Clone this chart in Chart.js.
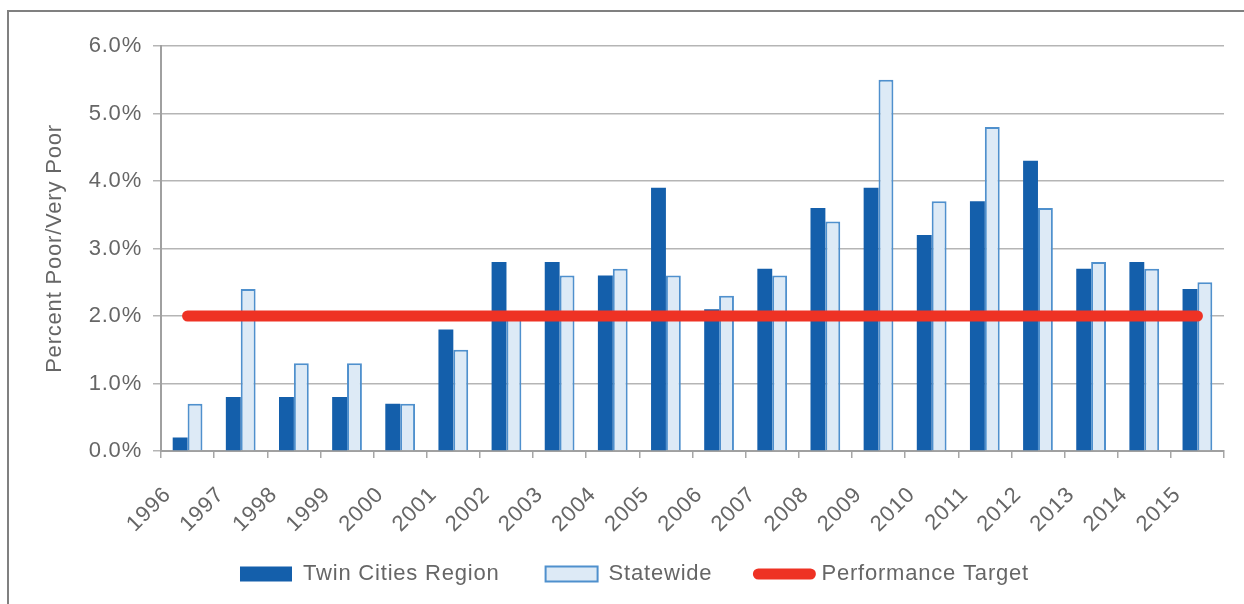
<!DOCTYPE html>
<html>
<head>
<meta charset="utf-8">
<script src="https://cdn.jsdelivr.net/npm/chart.js@4"></script>
<style>
  body { margin: 0; background: #fff; }
  #frame { position: absolute; left: 7px; top: 10px; right: -4px; bottom: -4px; border-left: 2px solid #808080; border-top: 2px solid #808080; }
  #chart { position: absolute; left: 0; top: 0; }
</style>
</head>
<body>
<div id="frame"></div>
<canvas id="chart" width="1244" height="604"></canvas>
<script>
const years = ['1996', '1997', '1998', '1999', '2000', '2001', '2002', '2003', '2004', '2005',
  '2006', '2007', '2008', '2009', '2010', '2011', '2012', '2013', '2014', '2015'];
const twinCities = [0.2, 0.8, 0.8, 0.8, 0.7, 1.8, 2.8, 2.8, 2.6, 3.9,
  2.1, 2.7, 3.6, 3.9, 3.2, 3.7, 4.3, 2.7, 2.8, 2.4];
const statewide = [0.7, 2.4, 1.3, 1.3, 0.7, 1.5, 2.0, 2.6, 2.7, 2.6,
  2.3, 2.6, 3.4, 5.5, 3.7, 4.8, 3.6, 2.8, 2.7, 2.5];
const target = [2, 2, 2, 2, 2, 2, 2, 2, 2, 2, 2, 2, 2, 2, 2, 2, 2, 2, 2, 2];
const yTicks = [0, 1, 2, 3, 4, 5, 6];

const textColor = '#666666';
Chart.defaults.font.family = "'Liberation Sans', Arial, sans-serif";
Chart.defaults.font.size = 22;
Chart.defaults.color = textColor;

// the reference text is tracked out a little
const spacing = {
  id: 'spacing',
  beforeUpdate(chart) { chart.ctx.letterSpacing = '0.8px'; },
  beforeDraw(chart) { chart.ctx.letterSpacing = '0.8px'; },
  afterLayout(chart) {
    // move the legend row up and a bit right, like the reference
    const lg = chart.legend;
    lg.left += 9;
    lg.right += 9;
    lg.top -= 24;
    lg.bottom = chart.height;
    lg.height = lg.bottom - lg.top;
  }
};

const ctx = document.getElementById('chart').getContext('2d');

new Chart(ctx, {
  data: {
    labels: years,
    datasets: [
      {
        type: 'bar',
        label: 'Twin Cities Region',
        data: twinCities,
        backgroundColor: '#145fab',
        borderWidth: 0,
        order: 1
      },
      {
        type: 'bar',
        label: 'Statewide',
        data: statewide,
        backgroundColor: '#ddeaf6',
        borderColor: '#4f90cd',
        borderWidth: 2,
        order: 1
      },
      {
        type: 'line',
        label: 'Performance Target',
        data: target,
        borderColor: '#ee3224',
        backgroundColor: '#ee3224',
        borderWidth: 11,
        borderCapStyle: 'round',
        pointRadius: 0,
        fill: false,
        order: 0
      }
    ]
  },
  options: {
    responsive: false,
    animation: false,
    devicePixelRatio: 1,
    layout: { padding: { left: 27, right: 20, top: 46, bottom: 23 } },
    datasets: {
      bar: { categoryPercentage: 0.56, barPercentage: 1.0 }
    },
    plugins: {
      tooltip: { enabled: false },
      legend: {
        position: 'bottom',
        maxHeight: 40,
        labels: {
          usePointStyle: true,
          pointStyleWidth: 52,
          boxHeight: 15,
          padding: 46,
          color: textColor,
          font: { size: 22 },
          generateLabels: function (chart) {
            return chart.data.datasets.map((ds, i) => {
              const isLine = ds.type === 'line';
              return {
                text: ds.label,
                datasetIndex: i,
                fillStyle: isLine ? ds.borderColor : ds.backgroundColor,
                strokeStyle: isLine ? ds.borderColor : (ds.borderColor || ds.backgroundColor),
                lineWidth: isLine ? 11 : ds.borderWidth,
                lineCap: isLine ? 'round' : 'butt',
                pointStyle: isLine ? 'line' : 'rect',
                fontColor: textColor,
                hidden: false
              };
            });
          }
        }
      }
    },
    scales: {
      x: {
        offset: true,
        grid: {
          offset: true,
          drawOnChartArea: false,
          drawTicks: true,
          tickLength: 7,
          color: '#a6a6a6',
          lineWidth: 1.5
        },
        border: { color: '#a0a0a0', width: 2 },
        ticks: {
          autoSkip: false,
          maxRotation: 45,
          minRotation: 45,
          labelOffset: -20,
          padding: 24,
          color: textColor,
          font: { size: 22 }
        },
        afterFit: function (scale) { scale.height = 90; }
      },
      y: {
        min: 0,
        max: 6,
        afterBuildTicks: function (scale) {
          scale.ticks = yTicks.map(v => ({ value: v }));
        },
        ticks: {
          padding: 11,
          color: textColor,
          font: { size: 22 },
          callback: function (val) { return val.toFixed(1) + '%'; }
        },
        grid: { color: '#b5b5b5', lineWidth: 1.5, tickLength: 8 },
        border: { color: '#a0a0a0', width: 2 },
        title: {
          display: true,
          text: 'Percent Poor/Very Poor',
          color: textColor,
          font: { size: 22 },
          padding: { top: 15, bottom: 0 }
        },
        afterFit: function (scale) { scale.width = 134; }
      }
    }
  },
  plugins: [spacing]
});
</script>
</body>
</html>
